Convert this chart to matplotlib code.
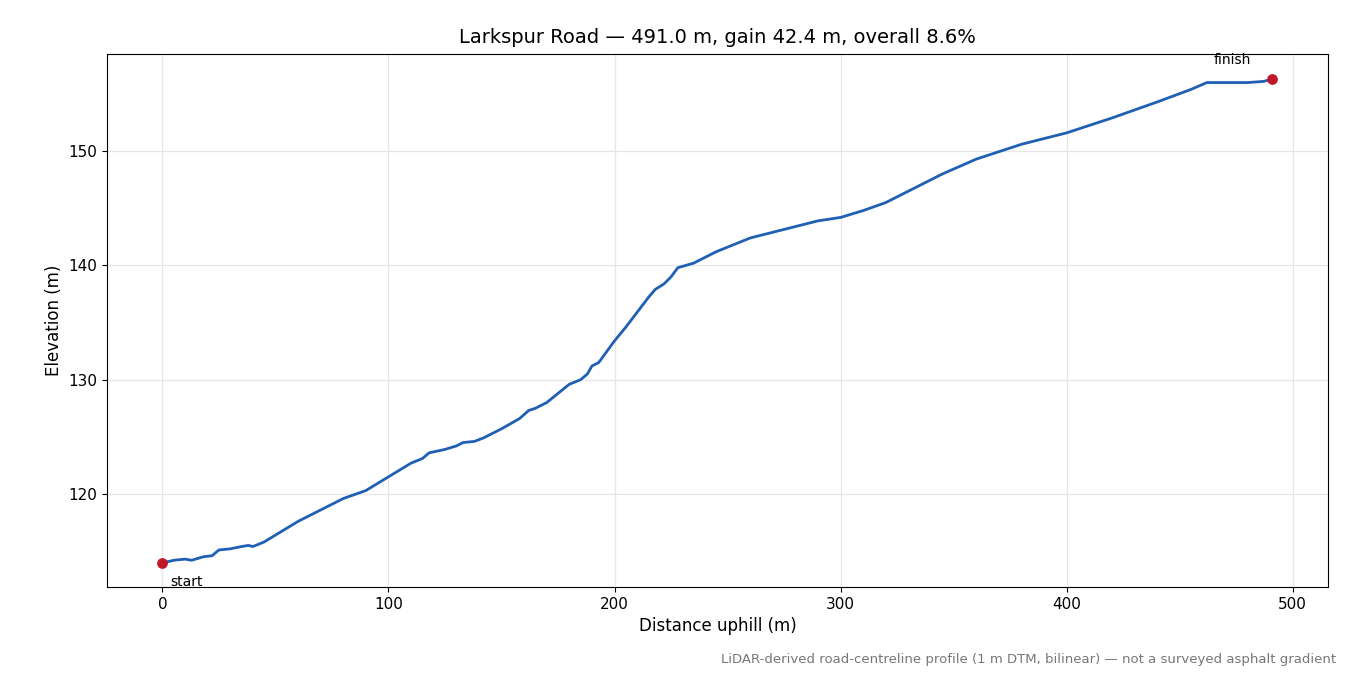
import matplotlib
matplotlib.use("Agg")
import matplotlib.pyplot as plt

# 路线剖面数据
distance_m = [0, 3, 5, 10, 13, 18, 22, 25, 30, 35, 38, 40, 45, 50, 55, 60, 70, 80,
              90, 100, 110, 115, 118, 125, 130, 133, 138, 142, 150, 158, 162, 165,
              170, 175, 180, 185, 188, 190, 193, 200, 205, 210, 215, 218, 222, 225,
              228, 235, 245, 260, 270, 280, 290, 300, 310, 320, 330, 345, 360, 380,
              400, 420, 440, 455, 462, 470, 480, 487, 491]
elevation_m = [114.0, 114.1, 114.2, 114.3, 114.2, 114.5, 114.6, 115.1, 115.2, 115.4,
               115.5, 115.4, 115.8, 116.4, 117.0, 117.6, 118.6, 119.6, 120.3, 121.5,
               122.7, 123.1, 123.6, 123.9, 124.2, 124.5, 124.6, 124.9, 125.7, 126.6,
               127.3, 127.5, 128.0, 128.8, 129.6, 130.0, 130.5, 131.2, 131.5, 133.4,
               134.6, 135.9, 137.2, 137.9, 138.4, 139.0, 139.8, 140.2, 141.2, 142.4,
               142.9, 143.4, 143.9, 144.2, 144.8, 145.5, 146.5, 148.0, 149.3, 150.6,
               151.6, 152.9, 154.3, 155.4, 156.0, 156.0, 156.0, 156.1, 156.3]

fig = plt.figure(figsize=(13.5, 6.75), dpi=100)
ax = fig.add_axes([107 / 1350, 1 - 587 / 675, (1328 - 107) / 1350, (587 - 54) / 675])

ax.plot(distance_m, elevation_m, color="#1f5fb4", linewidth=2)
ax.scatter([distance_m[0], distance_m[-1]], [elevation_m[0], elevation_m[-1]],
           color="#c0182a", s=45, zorder=3)
ax.annotate("start", (distance_m[0], elevation_m[0]), xytext=(6, -14),
            textcoords="offset points", fontsize=10, va="center")
ax.annotate("finish", (distance_m[-1], elevation_m[-1]), xytext=(-29, 14),
            textcoords="offset points", fontsize=10, ha="center", va="center")

ax.set_xlim(-24.5, 515.6)
ax.set_ylim(111.86, 158.5)
ax.set_xticks([0, 100, 200, 300, 400, 500])
ax.set_yticks([120, 130, 140, 150])
ax.tick_params(labelsize=11)
ax.grid(True, color="#e6e6e6", linewidth=0.9)
ax.set_xlabel("Distance uphill (m)", fontsize=12)
ax.set_ylabel("Elevation (m)", fontsize=12)
ax.set_title("Larkspur Road — 491.0 m, gain 42.4 m, overall 8.6%", fontsize=14, pad=8)

fig.text(1336 / 1350, 1 - 660 / 675, "LiDAR-derived road-centreline profile (1 m DTM, bilinear) — not a surveyed asphalt gradient",
         ha="right", va="center", fontsize=9.5, color="#777777")

fig.savefig("out.png", dpi=100)
